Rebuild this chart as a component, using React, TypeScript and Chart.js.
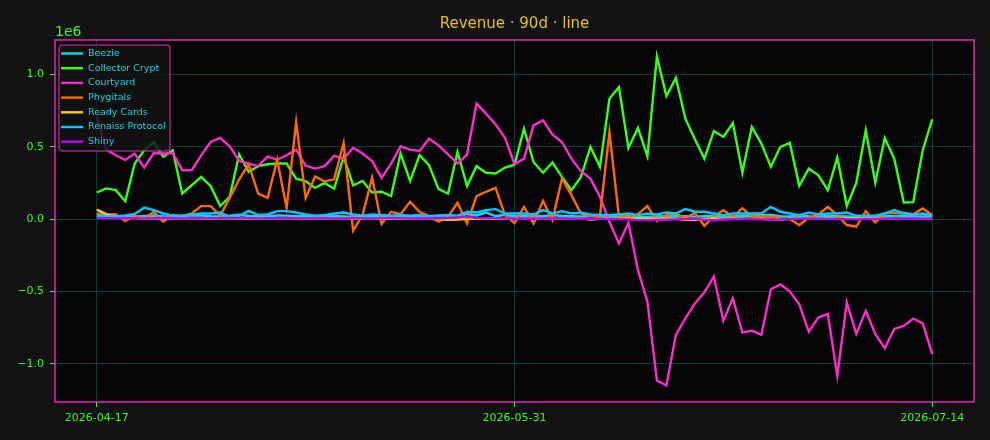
import React, { useEffect, useRef } from 'react';
import { Chart, registerables } from 'chart.js';

Chart.register(...registerables);

// 89 daily points, 2026-04-17 .. 2026-07-14
const dates: string[] = [];
for (let i = 0; i < 89; i++) {
    dates.push(new Date(Date.UTC(2026, 3, 17 + i)).toISOString().slice(0, 10));
}

const xTickIdx = [0, 44, 88];
const yTicks = [-1.0, -0.5, 0.0, 0.5, 1.0]; // in 1e6

const seriesNames = ['Beezie', 'Collector Crypt', 'Courtyard', 'Phygitals', 'Ready Cards', 'Renaiss Protocol', 'Shiny'];
const seriesColors = ['#00dcf0', '#39ff14', '#ff2bd0', '#ff6a00', '#ffd000', '#00c8ff', '#c000ff'];

// values in millions
const beezie = [
    0.015, 0.012, 0.018, 0.020, 0.016, 0.022, 0.025, 0.020, 0.018, 0.022,
    0.026, 0.024, 0.020, 0.019, 0.023, 0.030, 0.022, 0.020, 0.018, 0.025,
    0.024, 0.020, 0.021, 0.018, 0.020, 0.022, 0.019, 0.017, 0.020, 0.023,
    0.021, 0.020, 0.018, 0.016, 0.020, 0.022, 0.024, 0.026, 0.020, 0.035,
    0.025, 0.045, 0.020, 0.030, 0.020, 0.022, 0.025, 0.020, 0.028, 0.022,
    0.020, 0.018, 0.020, 0.022, 0.020, 0.018, 0.020, 0.016, 0.015, 0.018,
    0.020, 0.022, 0.020, 0.017, 0.020, 0.022, 0.018, 0.020, 0.025, 0.022,
    0.030, 0.028, 0.020, 0.018, 0.025, 0.020, 0.018, 0.022, 0.020, 0.018,
    0.016, 0.020, 0.018, 0.020, 0.022, 0.025, 0.020, 0.018, 0.020,
];
const collectorCrypt = [
    0.184, 0.212, 0.200, 0.124, 0.384, 0.476, 0.533, 0.430, 0.476, 0.177,
    0.234, 0.292, 0.228, 0.090, 0.154, 0.448, 0.326, 0.366, 0.379, 0.384,
    0.384, 0.280, 0.262, 0.216, 0.250, 0.210, 0.430, 0.234, 0.264, 0.184,
    0.189, 0.159, 0.453, 0.264, 0.441, 0.372, 0.207, 0.177, 0.464, 0.228,
    0.366, 0.320, 0.315, 0.356, 0.376, 0.625, 0.395, 0.320, 0.391, 0.292,
    0.200, 0.292, 0.499, 0.361, 0.832, 0.913, 0.492, 0.630, 0.434, 1.124,
    0.850, 0.975, 0.694, 0.552, 0.418, 0.609, 0.568, 0.664, 0.322, 0.637,
    0.522, 0.361, 0.499, 0.526, 0.230, 0.349, 0.303, 0.200, 0.425, 0.090,
    0.250, 0.614, 0.253, 0.561, 0.418, 0.115, 0.117, 0.476, 0.690,
];
const courtyard = [
    0.705, 0.480, 0.441, 0.410, 0.453, 0.356, 0.457, 0.453, 0.457, 0.338,
    0.338, 0.441, 0.533, 0.561, 0.503, 0.402, 0.384, 0.366, 0.434, 0.410,
    0.441, 0.480, 0.369, 0.349, 0.366, 0.437, 0.418, 0.492, 0.453, 0.402,
    0.285, 0.384, 0.503, 0.480, 0.471, 0.556, 0.510, 0.448, 0.384, 0.446,
    0.798, 0.729, 0.655, 0.561, 0.379, 0.418, 0.648, 0.683, 0.584, 0.533,
    0.418, 0.331, 0.280, 0.154, -0.018, -0.168, -0.025, -0.352, -0.570, -1.115,
    -1.150, -0.800, -0.685, -0.582, -0.506, -0.398, -0.703, -0.547, -0.784, -0.770,
    -0.800, -0.485, -0.451, -0.501, -0.589, -0.777, -0.680, -0.655, -1.083, -0.575,
    -0.793, -0.634, -0.793, -0.892, -0.759, -0.738, -0.687, -0.720, -0.933,
];
const phygitals = [
    0.040, 0.028, 0.034, -0.014, 0.023, 0.005, 0.050, -0.018, 0.028, 0.021,
    0.039, 0.090, 0.090, 0.023, 0.147, 0.274, 0.379, 0.177, 0.147, 0.410,
    0.078, 0.671, 0.145, 0.295, 0.260, 0.275, 0.526, -0.080, 0.028, 0.287,
    -0.034, 0.050, 0.034, 0.120, 0.050, 0.021, -0.018, 0.016, 0.113, -0.030,
    0.159, 0.189, 0.216, 0.028, -0.028, 0.085, -0.030, 0.126, -0.007, 0.280,
    0.166, 0.039, 0.021, 0.021, 0.602, 0.016, 0.016, 0.034, 0.090, -0.014,
    0.028, 0.039, 0.005, 0.044, -0.046, 0.021, 0.062, 0.016, 0.074, 0.021,
    0.016, 0.016, 0.005, 0.000, -0.041, 0.009, 0.032, 0.085, 0.028, -0.041,
    -0.053, 0.055, -0.023, 0.039, 0.044, 0.044, 0.034, 0.074, 0.028,
];
const readyCards = [
    0.065, 0.035, 0.020, 0.010, 0.008, 0.005, 0.006, 0.003, 0.004, 0.006,
    0.005, 0.004, 0.003, 0.005, 0.006, 0.004, 0.003, 0.005, 0.004, 0.006,
    0.005, 0.004, 0.003, 0.005, 0.004, 0.006, 0.005, 0.003, 0.004, 0.005,
    0.003, 0.004, 0.002, 0.004, 0.003, 0.002, -0.002, -0.004, -0.003, 0.002,
    0.003, 0.004, 0.003, 0.002, 0.003, 0.004, 0.003, 0.005, 0.004, 0.003,
    0.004, 0.006, -0.003, 0.003, 0.004, 0.003, 0.005, 0.004, 0.002, 0.003,
    0.004, 0.003, -0.004, -0.006, 0.003, 0.004, 0.003, 0.005, 0.004, 0.003,
    0.002, -0.004, -0.005, 0.003, 0.004, 0.003, 0.002, 0.004, 0.003, 0.005,
    0.004, 0.003, 0.004, 0.003, 0.002, 0.004, 0.003, 0.005, 0.004,
];
const renaissProtocol = [
    0.030, 0.020, 0.020, 0.025, 0.035, 0.080, 0.062, 0.039, 0.023, 0.023,
    0.032, 0.039, 0.039, 0.046, 0.016, 0.023, 0.057, 0.028, 0.032, 0.055,
    0.055, 0.046, 0.032, 0.023, 0.028, 0.039, 0.046, 0.032, 0.023, 0.032,
    0.028, 0.023, 0.028, 0.023, 0.028, 0.016, 0.023, 0.028, 0.023, 0.051,
    0.046, 0.062, 0.069, 0.039, 0.039, 0.039, 0.032, 0.062, 0.039, 0.055,
    0.039, 0.046, 0.032, 0.028, 0.028, 0.032, 0.039, 0.028, 0.039, 0.032,
    0.046, 0.039, 0.069, 0.051, 0.051, 0.039, 0.028, 0.039, 0.039, 0.039,
    0.039, 0.085, 0.051, 0.039, 0.028, 0.046, 0.032, 0.039, 0.039, 0.046,
    0.023, 0.023, 0.023, 0.039, 0.062, 0.039, 0.032, 0.039, 0.028,
];
const shiny = [
    0.008, 0.006, 0.005, 0.006, 0.007, 0.005, 0.006, 0.008, 0.006, 0.005,
    0.007, 0.006, 0.005, 0.006, 0.008, 0.007, 0.006, 0.005, 0.006, 0.007,
    0.006, 0.005, 0.004, 0.005, 0.006, 0.005, 0.004, 0.006, 0.005, 0.004,
    0.005, 0.006, 0.005, 0.004, 0.005, 0.004, 0.006, 0.008, 0.012, 0.016,
    0.008, 0.006, 0.005, 0.004, 0.003, 0.004, 0.003, 0.004, 0.005, 0.004,
    0.003, 0.004, 0.003, 0.002, 0.001, 0.000, -0.002, -0.006, -0.007, -0.006,
    -0.004, -0.002, 0.000, 0.002, -0.004, -0.008, -0.003, 0.000, 0.002, 0.000,
    -0.002, -0.004, -0.003, 0.000, 0.002, 0.003, 0.002, 0.001, 0.002, 0.000,
    -0.002, 0.000, 0.002, 0.003, 0.002, 0.003, 0.004, 0.003, 0.004,
];

const seriesValues = [beezie, collectorCrypt, courtyard, phygitals, readyCards, renaissProtocol, shiny];

const FONT = '"DejaVu Sans", sans-serif';
const TICK_GREEN = '#39ff14';
const SPINE = '#ff2bd6';

// matplotlib-like 5% margins
const allVals = seriesValues.flat();
const yMinData = Math.min(...allVals);
const yMaxData = Math.max(...allVals);
const yPad = (yMaxData - yMinData) * 0.05;
const xPad = (dates.length - 1) * 0.05;

const chromePlugin = {
    id: 'chrome',
    beforeDraw(chart: any) {
        const { ctx, chartArea: a } = chart;
        ctx.save();
        ctx.fillStyle = '#121212';
        ctx.fillRect(0, 0, chart.width, chart.height);
        ctx.fillStyle = '#050505';
        ctx.fillRect(a.left, a.top, a.right - a.left, a.bottom - a.top);
        ctx.restore();
    },
    afterDraw(chart: any) {
        const { ctx, chartArea: a } = chart;
        ctx.save();
        // spines
        ctx.strokeStyle = SPINE;
        ctx.lineWidth = 1.3;
        ctx.strokeRect(a.left, a.top, a.right - a.left, a.bottom - a.top);

        // title
        ctx.fillStyle = '#e8c400';
        ctx.font = `15px ${FONT}`;
        ctx.textAlign = 'center';
        ctx.textBaseline = 'alphabetic';
        ctx.fillText('Revenue · 90d · line', (a.left + a.right) / 2, 28);

        // offset text
        ctx.fillStyle = TICK_GREEN;
        ctx.font = `14px ${FONT}`;
        ctx.textAlign = 'left';
        ctx.fillText('1e6', a.left, 36);

        // legend
        const lx = a.left + 4, ly = a.top + 5, lw = 111, lh = 106;
        ctx.beginPath();
        ctx.roundRect(lx, ly, lw, lh, 3);
        ctx.fillStyle = 'rgba(20,20,20,0.82)';
        ctx.fill();
        ctx.strokeStyle = 'rgba(200,50,170,0.75)';
        ctx.lineWidth = 1.5;
        ctx.stroke();
        ctx.font = `9.5px ${FONT}`;
        ctx.textBaseline = 'middle';
        chart.data.datasets.forEach((ds: any, i: number) => {
            const y = ly + 8.5 + i * 14.7;
            ctx.strokeStyle = ds.borderColor;
            ctx.lineWidth = 2.4;
            ctx.beginPath();
            ctx.moveTo(lx + 2, y);
            ctx.lineTo(lx + 24, y);
            ctx.stroke();
            ctx.fillStyle = '#19d3e6';
            ctx.fillText(ds.label, lx + 29, y);
        });
        ctx.restore();
    },
};

const App: React.FC = () => {
    const chartRef = useRef<HTMLCanvasElement | null>(null);

    useEffect(() => {
        document.body.style.margin = '0';
        document.body.style.background = '#121212';
        const ctx = chartRef.current?.getContext('2d');
        if (!ctx) {
            return;
        }

        const myChart = new Chart(ctx, {
            type: 'line',
            data: {
                datasets: seriesNames.map((name, i) => ({
                    label: name,
                    data: seriesValues[i].map((v, j) => ({ x: j, y: v * 1e6 })),
                    borderColor: seriesColors[i],
                    backgroundColor: seriesColors[i],
                    borderWidth: 2.4,
                    pointRadius: 0,
                    tension: 0,
                    fill: false,
                    order: seriesNames.length - 1 - i,
                })),
            },
            options: {
                responsive: false,
                animation: false,
                devicePixelRatio: 1,
                layout: { padding: { top: 40, right: 16, left: 0, bottom: 0 } },
                plugins: {
                    legend: { display: false },
                    title: { display: false },
                    tooltip: { enabled: false },
                },
                scales: {
                    x: {
                        type: 'linear',
                        min: -xPad,
                        max: dates.length - 1 + xPad,
                        afterBuildTicks: (s: any) => {
                            s.ticks = xTickIdx.map((v) => ({ value: v }));
                        },
                        afterFit: (s: any) => {
                            s.height = 38;
                        },
                        ticks: {
                            color: TICK_GREEN,
                            font: { family: FONT, size: 11 },
                            padding: 5,
                            maxRotation: 0,
                            autoSkip: false,
                            callback: (v: any) => dates[v as number] ?? '',
                        },
                        grid: {
                            color: '#0e3a3c',
                            tickColor: TICK_GREEN,
                            tickLength: 5,
                            lineWidth: 1,
                        },
                        border: { display: false },
                    },
                    y: {
                        min: (yMinData - yPad) * 1e6,
                        max: (yMaxData + yPad) * 1e6,
                        afterBuildTicks: (s: any) => {
                            s.ticks = yTicks.map((v) => ({ value: v * 1e6 }));
                        },
                        afterFit: (s: any) => {
                            s.width = 55;
                        },
                        ticks: {
                            color: TICK_GREEN,
                            font: { family: FONT, size: 11 },
                            padding: 6,
                            callback: (v: any) => ((v as number) / 1e6).toFixed(1).replace('-', '\u2212'),
                        },
                        grid: {
                            color: '#0e3a3c',
                            tickColor: TICK_GREEN,
                            tickLength: 5,
                            lineWidth: 1,
                        },
                        border: { display: false },
                    },
                },
            },
            plugins: [chromePlugin],
        });

        return () => {
            myChart.destroy();
        };
    }, []);

    return (
        <div style={{ width: 990, height: 440 }}>
            <canvas ref={chartRef} width={990} height={440} style={{ display: 'block' }} />
        </div>
    );
};

export default App;
